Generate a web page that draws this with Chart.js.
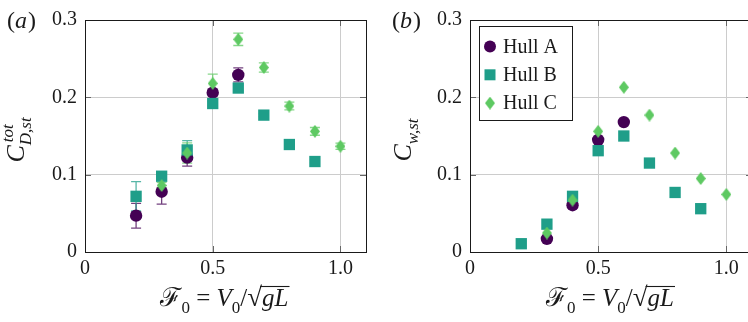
<!DOCTYPE html>
<html>
<head>
<meta charset="utf-8">
<script src="https://cdn.jsdelivr.net/npm/chart.js@4.4.1/dist/chart.umd.min.js"></script>
<style>
  html, body { margin: 0; padding: 0; background: #fff; }
  #wrap { position: relative; width: 748px; height: 322px; overflow: hidden; }
  #wrap canvas { position: absolute; top: 0; }
</style>
</head>
<body>
<div id="wrap">
  <canvas id="chartA" width="374" height="322" style="left:0px"></canvas>
  <canvas id="chartB" width="386" height="322" style="left:374px"></canvas>
</div>
<script>
// Froude numbers tested per hull
const froudeA = [0.2, 0.3, 0.4, 0.5, 0.6];
const froudeB = [0.2, 0.3, 0.4, 0.5, 0.6, 0.7, 0.8, 0.9];
const froudeC = [0.3, 0.4, 0.5, 0.6, 0.7, 0.8, 0.9, 1.0];
const froudeWaveA = [0.3, 0.4, 0.5, 0.6];

// (a) total drag coefficient, with error half-widths
const totalA = [0.047, 0.078, 0.122, 0.206, 0.229];
const totalAErr = [0.016, 0.016, 0.011, 0.004, 0.009];
const totalB = [0.072, 0.098, 0.132, 0.192, 0.212, 0.177, 0.139, 0.117];
const totalBErr = [0.019, 0.004, 0.012, 0.003, 0.003, 0.002, 0.002, 0.002];
const totalC = [0.086, 0.128, 0.218, 0.275, 0.2385, 0.1887, 0.156, 0.1367];
const totalCErr = [0.004, 0.013, 0.012, 0.008, 0.006, 0.005, 0.005, 0.004];

// (b) wave drag coefficient
const waveA = [0.017, 0.0605, 0.145, 0.168];
const waveB = [0.0107, 0.036, 0.072, 0.131, 0.150, 0.115, 0.077, 0.056];
const waveC = [0.0245, 0.067, 0.156, 0.213, 0.177, 0.128, 0.095, 0.0745];

const hullNames = ["Hull A", "Hull B", "Hull C"];
const xTicks = [0, 0.5, 1.0];
const yTicks = [0, 0.1, 0.2, 0.3];

const purple = "#440154";
const teal = "#1f9e89";
const green = "#5ec962";
const SERIF = '"Liberation Serif", "DejaVu Serif", serif';

function makeDiamond(color, w, h) {
  const c = document.createElement("canvas");
  c.width = w; c.height = h;
  const g = c.getContext("2d");
  g.fillStyle = color;
  g.beginPath();
  g.moveTo(w / 2, 0); g.lineTo(w, h / 2); g.lineTo(w / 2, h); g.lineTo(0, h / 2);
  g.closePath();
  g.fill();
  return c;
}
const diamond = makeDiamond(green, 10, 13);

const pts = (xs, ys) => xs.map((x, i) => ({ x: x, y: ys[i] }));

function seriesSets(a, b, c) {
  return [
    { label: hullNames[0], data: a, pointStyle: "circle", pointRadius: 6.2, backgroundColor: purple, borderWidth: 0, order: 3 },
    { label: hullNames[1], data: b, pointStyle: "rect", pointRadius: 8, backgroundColor: teal, borderWidth: 0, order: 2 },
    { label: hullNames[2], data: c, pointStyle: diamond, pointRadius: 6, backgroundColor: green, borderWidth: 0, order: 1 },
  ];
}

// rich text: segments of {t, font, dy} or stacked {sup, sub}
function richWidth(ctx, segs) {
  let w = 0;
  segs.forEach(s => {
    ctx.font = s.font;
    if (s.t !== undefined) w += ctx.measureText(s.t).width + (s.gap || 0);
    else w += Math.max(ctx.measureText(s.sup || "").width + (s.supShift || 0), ctx.measureText(s.sub || "").width);
  });
  return w;
}
function drawRich(ctx, segs, cx, y) {
  let x = cx - richWidth(ctx, segs) / 2;
  ctx.textBaseline = "alphabetic";
  ctx.textAlign = "left";
  segs.forEach(s => {
    ctx.font = s.font;
    if (s.t !== undefined) {
      const w = ctx.measureText(s.t).width;
      ctx.fillText(s.t, x, y + (s.dy || 0));
      if (s.over) {
        ctx.save();
        ctx.strokeStyle = ctx.fillStyle;
        ctx.lineWidth = 1.1;
        ctx.beginPath();
        ctx.moveTo(x - 2, y + s.over + 0.5);
        ctx.lineTo(x + w + 1, y + s.over + 0.5);
        ctx.stroke();
        ctx.restore();
      }
      x += w + (s.gap || 0);
    } else {
      if (s.sup) ctx.fillText(s.sup, x + (s.supShift || 0), y + s.supDy);
      if (s.sub) ctx.fillText(s.sub, x, y + s.subDy);
      x += Math.max(ctx.measureText(s.sup || "").width + (s.supShift || 0), ctx.measureText(s.sub || "").width);
    }
  });
}

const xLabel = [
  { t: "\u2131", font: '26px "DejaVu Serif", serif' },
  { t: "0", font: "17px " + SERIF, dy: 7 },
  { t: " = ", font: "25px " + SERIF },
  { t: "V", font: "italic 25px " + SERIF },
  { t: "0", font: "17px " + SERIF, dy: 7 },
  { t: "/", font: "25px " + SERIF },
  { t: "\u221A", font: "27px " + SERIF },
  { t: "gL", font: "italic 25px " + SERIF, over: -20 },
];

const errorBars = {
  id: "errorBars",
  beforeDatasetsDraw(chart, args, opts) {
    if (!opts.errs) return;
    const { ctx, scales } = chart;
    ctx.save();
    chart.data.datasets.forEach((ds, i) => {
      const err = opts.errs[i];
      ctx.strokeStyle = ds.backgroundColor;
      ctx.globalAlpha = 0.75;
      ctx.lineWidth = 1.3;
      ds.data.forEach((p, j) => {
        const px = scales.x.getPixelForValue(p.x);
        const lo = scales.y.getPixelForValue(p.y - err[j]);
        const hi = scales.y.getPixelForValue(p.y + err[j]);
        ctx.beginPath();
        ctx.moveTo(px, lo); ctx.lineTo(px, hi);
        ctx.moveTo(px - 5, lo); ctx.lineTo(px + 5, lo);
        ctx.moveTo(px - 5, hi); ctx.lineTo(px + 5, hi);
        ctx.stroke();
      });
    });
    ctx.restore();
  },
};

const frame = {
  id: "frame",
  afterDatasetsDraw(chart, args, opts) {
    const { ctx, chartArea: a, scales } = chart;
    ctx.save();
    ctx.strokeStyle = "#666";
    ctx.lineWidth = 1;
    ctx.beginPath();
    xTicks.forEach(v => {
      const px = Math.round(scales.x.getPixelForValue(v)) + 0.5;
      ctx.moveTo(px, a.bottom); ctx.lineTo(px, a.bottom - 6);
      ctx.moveTo(px, a.top); ctx.lineTo(px, a.top + 6);
    });
    yTicks.forEach(v => {
      const py = Math.round(scales.y.getPixelForValue(v)) + 0.5;
      ctx.moveTo(a.left, py); ctx.lineTo(a.left + 6, py);
      ctx.moveTo(a.right, py); ctx.lineTo(a.right - 6, py);
    });
    ctx.stroke();
    ctx.strokeStyle = "#1a1a1a";
    ctx.strokeRect(Math.round(a.left) + 0.5, Math.round(a.top) + 0.5,
      Math.round(a.right - a.left), Math.round(a.bottom - a.top));

    ctx.fillStyle = "#1a1a1a";
    // panel letter
    ctx.textBaseline = "alphabetic";
    ctx.textAlign = "left";
    ctx.font = "24px " + SERIF;
    let x = opts.letterX;
    ctx.fillText("(", x, 28); x += ctx.measureText("(").width;
    ctx.font = "italic 24px " + SERIF;
    ctx.fillText(opts.letter, x, 28); x += ctx.measureText(opts.letter).width + 1;
    ctx.font = "24px " + SERIF;
    ctx.fillText(")", x, 28);

    // x axis title
    drawRich(ctx, xLabel, (a.left + a.right) / 2 - 1, 306);

    // y axis title (rotated)
    ctx.save();
    ctx.translate(opts.yTitleX, (a.top + a.bottom) / 2 + 4);
    ctx.rotate(-Math.PI / 2);
    drawRich(ctx, opts.yTitle, 0, 0);
    ctx.restore();

    // legend box
    if (opts.legend) {
      const L = opts.legend;
      ctx.fillStyle = "#fff";
      ctx.fillRect(L.x, L.y, L.w, L.h);
      ctx.strokeStyle = "#1a1a1a";
      ctx.strokeRect(L.x + 0.5, L.y + 0.5, L.w, L.h);
      chart.data.datasets.forEach((ds, i) => {
        const cy = L.y + 20.5 + i * 28.3;
        const mx = L.x + 11;
        ctx.fillStyle = ds.backgroundColor;
        if (ds.pointStyle === "circle") {
          ctx.beginPath(); ctx.arc(mx, cy, 6, 0, Math.PI * 2); ctx.fill();
        } else if (ds.pointStyle === "rect") {
          ctx.fillRect(mx - 5.5, cy - 5.5, 11, 11);
        } else {
          ctx.drawImage(ds.pointStyle, mx - 5, cy - 6.5);
        }
        ctx.fillStyle = "#1a1a1a";
        ctx.font = "20px " + SERIF;
        ctx.textBaseline = "middle";
        ctx.fillText(ds.label, L.x + 24, cy + 1);
      });
    }
    ctx.restore();
  },
};

function axisOptions(plotWidthPad) {
  const tickFmt = v => (Math.abs(v) < 1e-9 ? "0" : v.toFixed(1));
  const gridColor = c => (c.tick && Math.abs(c.tick.value) < 1e-9 ? "rgba(0,0,0,0)" : "#cccccc");
  return {
    x: {
      type: "linear", min: 0, max: 1.1,
      afterFit: s => { s.height = 70; },
      border: { display: false },
      grid: { color: gridColor, drawTicks: false, lineWidth: 1 },
      ticks: { stepSize: 0.5, includeBounds: false, padding: 5, color: "#1a1a1a",
               font: { family: SERIF, size: 20 }, callback: tickFmt, maxRotation: 0 },
    },
    y: {
      type: "linear", min: 0, max: 0.3,
      afterFit: s => { s.width = plotWidthPad; },
      border: { display: false },
      grid: { color: gridColor, drawTicks: false, lineWidth: 1 },
      ticks: { stepSize: 0.1, includeBounds: false, padding: 8, color: "#1a1a1a",
               font: { family: SERIF, size: 20 }, callback: tickFmt },
    },
  };
}

function makeChart(id, datasets, leftW, rightPad, extra) {
  return new Chart(document.getElementById(id), {
    type: "scatter",
    data: { datasets: datasets },
    options: {
      responsive: false,
      devicePixelRatio: 1,
      animation: false,
      layout: { padding: { top: 20, right: rightPad, left: 0, bottom: 0 } },
      scales: axisOptions(leftW),
      plugins: {
        legend: { display: false },
        tooltip: { enabled: false },
        errorBars: { errs: extra.errs },
        frame: extra,
      },
    },
    plugins: [errorBars, frame],
  });
}

const italicBig = "italic 26px " + SERIF;
const italicSmall = "italic 17px " + SERIF;

makeChart("chartA",
  seriesSets(pts(froudeA, totalA), pts(froudeB, totalB), pts(froudeC, totalC)),
  85, 4,
  {
    errs: [totalAErr, totalBErr, totalCErr],
    letter: "a", letterX: 7,
    yTitleX: 24,
    yTitle: [
      { t: "C", font: italicBig },
      { sup: "tot", sub: "D,st", font: italicSmall, supDy: -11, subDy: 7, supShift: 3 },
    ],
  });

makeChart("chartB",
  seriesSets(pts(froudeWaveA, waveA), pts(froudeB, waveB), pts(froudeC, waveC)),
  96, 5,
  {
    errs: null,
    letter: "b", letterX: 18,
    yTitleX: 37,
    yTitle: [
      { t: "C", font: italicBig },
      { t: "w,st", font: italicSmall, dy: 7 },
    ],
    legend: { x: 105, y: 26, w: 93, h: 94 },
  });
</script>
</body>
</html>
